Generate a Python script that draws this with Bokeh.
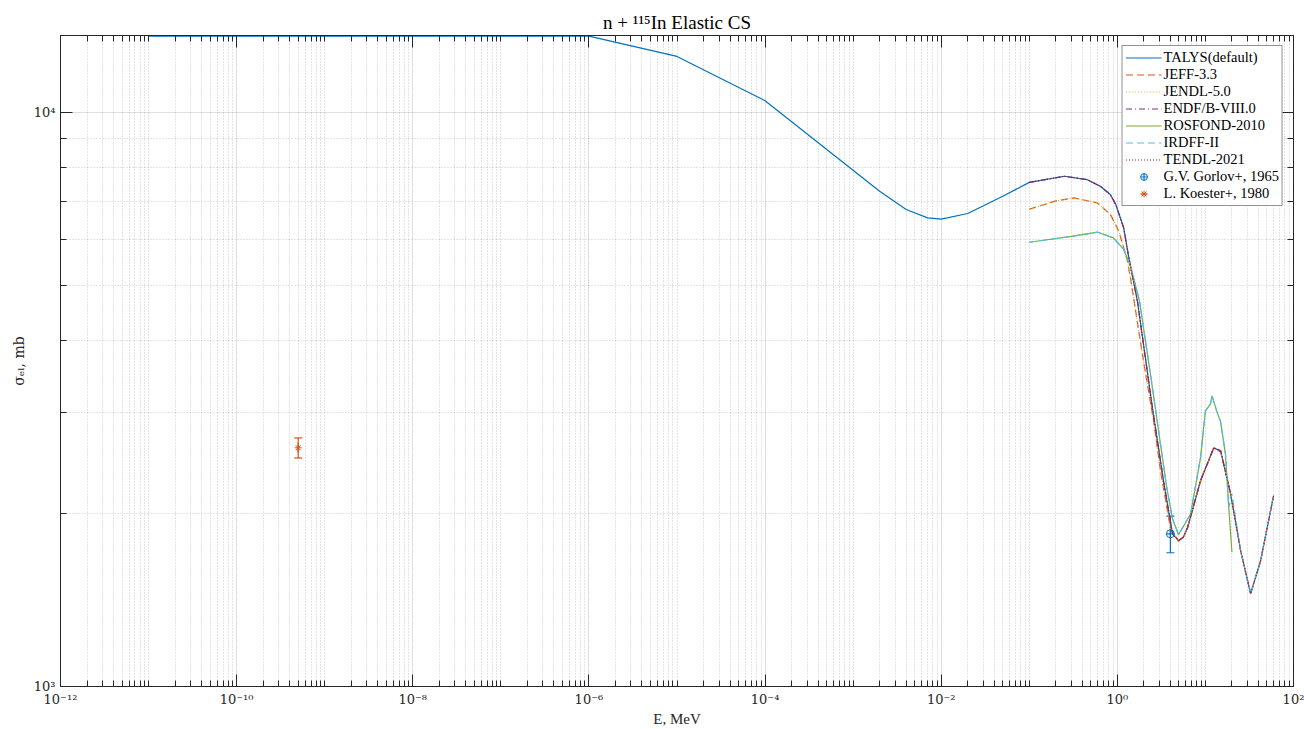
import math
from bokeh.plotting import figure
from bokeh.models import (FixedTicker, CustomJSTickFormatter, LogAxis, Range1d,
                          Legend, LegendItem, Whisker, ColumnDataSource, TeeHead)
from bokeh.embed import file_html
from bokeh.resources import INLINE

# ---------------- data ----------------
talys_e = [1e-11, 1e-10, 1e-9, 1e-8, 1e-7, 1e-6, 1e-5, 1e-4, 2e-3, 4e-3, 7e-3, 1e-2,
           2e-2, 5e-2, 0.1, 0.25, 0.45, 0.64, 0.83, 0.96, 1.18, 1.35, 1.69, 2.0, 2.5,
           3.0, 3.34, 4.23, 4.95, 5.6, 6.26, 8.8, 12.4, 14.9, 19.3, 25.1, 32.6, 42.3, 59.4]
talys_s = [13580, 13580, 13580, 13580, 13580, 13580, 12515, 10478, 7288, 6773, 6550, 6515,
           6665, 7145, 7551, 7739, 7638, 7434, 7193, 6910, 6293, 5580, 4692, 3902, 3057,
           2542, 2282, 1845, 1795, 1820, 1890, 2282, 2604, 2573, 2166, 1724, 1451, 1656, 2149]

# evaluated libraries start at 0.1 MeV
hi_e = [0.1, 0.25, 0.45, 0.64, 0.83, 0.96, 1.18, 1.35, 1.69, 2.0, 2.5, 3.0, 3.34, 4.23,
        4.95, 5.6, 6.26, 8.8, 12.4, 14.9, 19.3]
hi_s = [7551, 7739, 7638, 7434, 7193, 6910, 6293, 5580, 4692, 3902, 3057, 2542, 2282, 1845,
        1795, 1820, 1890, 2282, 2604, 2573, 2166]
tail_e = [19.3, 25.1, 32.6, 42.3, 59.4]
tail_s = [2166, 1724, 1451, 1656, 2149]

jeff_e = [0.1, 0.2, 0.32, 0.59, 0.835, 1.04, 1.29, 1.41, 1.98, 2.58, 3.09, 4.0, 4.95,
          5.6, 6.26, 8.8, 12.4, 14.9, 19.3, 25.1, 32.6, 42.3, 59.4]
jeff_s = [6780, 7010, 7096, 6956, 6637, 6209, 5545, 5144, 3690, 2901, 2376, 1890, 1790,
          1815, 1890, 2282, 2595, 2565, 2166, 1724, 1451, 1656, 2149]

jendl_e = [0.1, 0.2, 0.32, 0.59, 0.835, 1.04, 1.29, 1.41, 1.98, 2.58, 3.09, 4.0, 4.95,
           5.6, 6.26, 8.8, 12.4, 14.9, 19.3]
jendl_s = [6780, 7010, 7096, 6956, 6637, 6209, 5545, 5144, 3690, 2901, 2376, 1890, 1790,
           1815, 1890, 2282, 2595, 2565, 2166]

ros_e = [0.1, 0.3, 0.6, 0.9, 1.18, 1.41, 1.785, 2.44, 3.61, 4.23, 4.95, 6.78, 8.8, 10.0,
         11.4, 11.9, 13.6, 14.8, 16.9, 18.4, 20.0]
ros_s = [5940, 6080, 6184, 6045, 5770, 5400, 4692, 3404, 2237, 1960, 1838, 1997, 2505,
         3020, 3103, 3207, 2999, 2901, 2539, 2050, 1713]

gorlov_e = [4.0]
gorlov_s = [1845]
gorlov_err = [135]

koester_e = [5.0e-10]
koester_s = [2605]
koester_err = [105]

x_major = [1e-12, 1e-10, 1e-8, 1e-6, 1e-4, 1e-2, 1e0, 1e2]
y_major = [1e3, 1e4]

# ---------------- styling ----------------
FONT = "Liberation Serif"
TFONT = "DejaVu Serif"
AX = "#262626"
C_BLUE = "#0072BD"
C_ORANGE = "#D95319"
C_YELLOW = "#EDB120"
C_PURPLE = "#7E2F8E"
C_GREEN = "#77AC30"
C_LBLUE = "#4DBEEE"
C_RED = "#A2142F"

p = figure(width=1304, height=729, x_axis_type="log", y_axis_type="log",
           x_range=Range1d(1e-12, 1e2), y_range=Range1d(1000, 13610),
           output_backend="svg", toolbar_location=None,
           min_border_left=60, min_border_right=11, min_border_top=35, min_border_bottom=43)
p.background_fill_color = "white"
p.border_fill_color = "white"
p.outline_line_color = AX
p.outline_line_width = 1

p.title.text = "n + \u00b9\u00b9\u2075In Elastic CS"
p.title.align = "center"
p.title.text_font = FONT
p.title.text_font_size = "19px"
p.title.text_font_style = "normal"
p.title.text_color = "black"
p.title.standoff = 6

x_minor = [k * 10.0 ** n for n in range(-12, 2) for k in range(1, 10)
           if not (k == 1 and n % 2 == 0)]
y_minor = [k * 1000.0 for k in range(2, 10)]

xt = FixedTicker(ticks=x_major, minor_ticks=x_minor)
yt = FixedTicker(ticks=y_major, minor_ticks=y_minor)

fmt = CustomJSTickFormatter(code="""
const sup = {"-":"\u207b","0":"\u2070","1":"\u00b9","2":"\u00b2","3":"\u00b3","4":"\u2074",
             "5":"\u2075","6":"\u2076","7":"\u2077","8":"\u2078","9":"\u2079"};
const e = Math.round(Math.log10(tick));
return "10" + String(e).split("").map(c => sup[c]).join("");
""")

def style_axis(ax, labels=True):
    ax.axis_line_color = AX
    ax.major_tick_line_color = AX
    ax.minor_tick_line_color = AX
    ax.major_tick_in = 12
    ax.major_tick_out = 0
    ax.minor_tick_in = 6
    ax.minor_tick_out = 0
    ax.major_label_text_font = TFONT
    if labels:
        ax.major_label_text_font_size = "13px"
        ax.major_label_text_color = AX
    else:
        ax.major_label_text_font_size = "1px"
        ax.major_label_text_color = None
        ax.major_label_standoff = 0
    ax.axis_label_text_font = FONT
    ax.axis_label_text_font_size = "15px"
    ax.axis_label_text_font_style = "normal"
    ax.axis_label_text_color = AX

xa = p.xaxis[0]
xa.ticker = xt
xa.formatter = fmt
style_axis(xa)
xa.axis_label = "E, MeV"
xa.major_label_standoff = 5
xa.axis_label_standoff = 1

ya = p.yaxis[0]
ya.ticker = yt
ya.formatter = fmt
style_axis(ya)
ya.axis_label = "\u03c3\u2091\u2097, mb"
ya.axis_label_text_font = TFONT
ya.axis_label_text_font_size = "14px"
ya.major_label_standoff = 5
ya.axis_label_standoff = 4

top = LogAxis(ticker=xt, formatter=fmt)
style_axis(top, labels=False)
right = LogAxis(ticker=yt, formatter=fmt)
style_axis(right, labels=False)
p.add_layout(top, "above")
p.add_layout(right, "right")

for g, t in ((p.xgrid[0], xt), (p.ygrid[0], yt)):
    g.ticker = t
    g.grid_line_color = AX
    g.grid_line_alpha = 0.15
    g.minor_grid_line_color = AX
    g.minor_grid_line_alpha = 0.25
    g.minor_grid_line_dash = "1 2"

LW = 1.2
r_talys = p.line(talys_e, talys_s, line_color=C_BLUE, line_width=LW)
r_jeff = p.line(jeff_e, jeff_s, line_color=C_ORANGE, line_width=LW, line_dash="7 4")
r_jendl = p.line(jendl_e, jendl_s, line_color=C_YELLOW, line_width=LW, line_dash="1 2")
r_endf = p.line(hi_e, hi_s, line_color=C_PURPLE, line_width=LW, line_dash="6 3 1 3")
r_ros = p.line(ros_e, ros_s, line_color=C_GREEN, line_width=LW)
r_irdff = p.line(ros_e + tail_e[1:], ros_s[:-1] + [tail_s[0]] + tail_s[1:],
                 line_color=C_LBLUE, line_width=LW, line_dash="7 4")
r_tendl = p.line(hi_e + tail_e[1:], hi_s + tail_s[1:], line_color=C_RED, line_width=LW,
                 line_dash="1 2")

# experimental data with error bars
g_src = ColumnDataSource(dict(x=gorlov_e, y=gorlov_s,
                              lo=[s - e for s, e in zip(gorlov_s, gorlov_err)],
                              hi=[s + e for s, e in zip(gorlov_s, gorlov_err)]))
k_src = ColumnDataSource(dict(x=koester_e, y=koester_s,
                              lo=[s - e for s, e in zip(koester_s, koester_err)],
                              hi=[s + e for s, e in zip(koester_s, koester_err)]))
p.add_layout(Whisker(source=g_src, base="x", lower="lo", upper="hi", dimension="height",
                     line_color=C_BLUE, line_width=1.2,
                     upper_head=TeeHead(size=8, line_color=C_BLUE, line_width=1.2),
                     lower_head=TeeHead(size=8, line_color=C_BLUE, line_width=1.2)))
p.add_layout(Whisker(source=k_src, base="x", lower="lo", upper="hi", dimension="height",
                     line_color=C_ORANGE, line_width=1.2,
                     upper_head=TeeHead(size=8, line_color=C_ORANGE, line_width=1.2),
                     lower_head=TeeHead(size=8, line_color=C_ORANGE, line_width=1.2)))
r_gx = p.scatter("x", "y", source=g_src, marker="cross", size=8, line_color=C_BLUE,
                 line_width=1.2)
r_g = p.scatter("x", "y", source=g_src, marker="circle", size=8, fill_color=None,
                line_color=C_BLUE, line_width=1)
r_kx = p.scatter("x", "y", source=k_src, marker="dash", angle=math.pi / 2, size=10,
                 line_color=C_ORANGE, line_width=1.2)
r_k = p.scatter("x", "y", source=k_src, marker="asterisk", size=7, line_color=C_ORANGE,
                line_width=1)

legend = Legend(items=[
    LegendItem(label="TALYS(default)", renderers=[r_talys]),
    LegendItem(label="JEFF-3.3", renderers=[r_jeff]),
    LegendItem(label="JENDL-5.0", renderers=[r_jendl]),
    LegendItem(label="ENDF/B-VIII.0", renderers=[r_endf]),
    LegendItem(label="ROSFOND-2010", renderers=[r_ros]),
    LegendItem(label="IRDFF-II", renderers=[r_irdff]),
    LegendItem(label="TENDL-2021", renderers=[r_tendl]),
    LegendItem(label="G.V. Gorlov+, 1965", renderers=[r_gx, r_g]),
    LegendItem(label="L. Koester+, 1980", renderers=[r_kx, r_k]),
], location="top_right")
legend.margin = 10
legend.padding = 3
legend.spacing = 0
legend.glyph_width = 36
legend.glyph_height = 17
legend.label_height = 17
legend.label_standoff = 2
legend.label_text_font = FONT
legend.label_text_font_size = "14.5px"
legend.label_text_color = "black"
legend.border_line_color = AX
legend.border_line_width = 1
legend.background_fill_color = "white"
legend.background_fill_alpha = 1.0
p.add_layout(legend)

open("out.html", "w").write(file_html(p, INLINE))
